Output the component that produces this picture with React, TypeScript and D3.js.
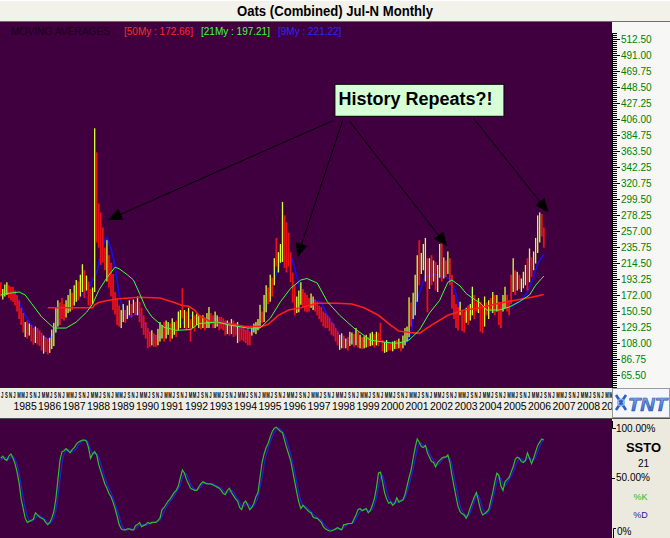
import React from "react";
import * as d3 from "d3";

// ---------------- DATA ----------------
const firstYear = 1984;
const firstMonth = 7; // Jul 1984, monthly bars up to Sep 2006

const highs: number[] = [
  189, 180, 186, 189, 185, 183,
  183, 178, 172, 165, 155, 148, 136, 138, 134, 132, 128, 130,
  128, 125, 122, 118, 116, 114, 115, 126, 135, 155, 165, 162,
  168, 160, 165, 172, 180, 175, 185, 192, 190, 199, 213, 205,
  198, 190, 180, 182, 394, 362, 294, 282, 262, 235, 245, 225,
  215, 200, 176, 168, 158, 152, 160, 152, 158, 165, 160, 166,
  163, 170, 163, 155, 145, 136, 128, 123, 125, 121, 119, 127,
  136, 132, 136, 138, 136, 134, 141, 136, 138, 150, 152, 181,
  152, 150, 155, 140, 150, 145, 147, 145, 143, 145, 142, 148,
  156, 148, 145, 150, 145, 143, 143, 141, 138, 138, 136, 140,
  138, 135, 136, 132, 130, 128, 126, 128, 123, 128, 134, 136,
  140, 159, 150, 172, 185, 182, 199, 195, 221, 248, 229, 240,
  296, 278, 269, 255, 229, 202, 185, 170, 178, 189, 180, 175,
  172, 168, 174, 170, 166, 163, 158, 156, 150, 148, 145, 142,
  136, 134, 128, 124, 119, 121, 118, 114, 116, 123, 122, 120,
  128, 123, 119, 116, 117, 119, 116, 121, 123, 120, 123, 122,
  135, 112, 109, 112, 110, 108, 110, 111, 112, 114, 110, 118,
  128, 130, 169, 162, 175, 199, 225, 245, 228, 240, 248, 221,
  221, 225, 218, 216, 212, 240, 245, 222, 218, 230, 221, 199,
  172, 160, 156, 163, 152, 150, 155, 158, 160, 183, 172, 163,
  168, 163, 158, 170, 162, 165, 168, 176, 172, 172, 163, 160,
  172, 183, 172, 165, 199, 221, 205, 203, 199, 194, 203, 212,
  221, 234, 222, 230, 248, 278, 282, 280, 262,
];

const lows: number[] = [
  170, 166, 170, 172, 168, 165,
  163, 158, 150, 140, 132, 122, 116, 114, 118, 110, 106, 108,
  106, 104, 98, 94, 96, 93, 95, 100, 104, 122, 130, 132,
  140, 138, 142, 148, 150, 152, 158, 163, 165, 170, 176, 168,
  178, 158, 155, 160, 176, 242, 235, 212, 215, 205, 190, 182,
  170, 152, 146, 132, 130, 128, 136, 135, 140, 145, 142, 148,
  145, 145, 136, 128, 119, 114, 101, 103, 105, 103, 103, 105,
  110, 114, 110, 114, 119, 110, 114, 119, 116, 125, 128, 141,
  128, 125, 128, 110, 128, 123, 132, 128, 126, 128, 125, 128,
  128, 133, 128, 128, 130, 125, 127, 125, 118, 120, 118, 120,
  116, 118, 108, 110, 112, 110, 108, 105, 105, 118, 122, 120,
  125, 128, 135, 136, 149, 160, 163, 170, 185, 210, 202, 215,
  216, 208, 202, 210, 189, 162, 145, 148, 149, 159, 156, 150,
  149, 150, 155, 152, 150, 145, 140, 136, 130, 128, 128, 124,
  119, 117, 110, 105, 99, 101, 101, 101, 98, 104, 106, 103,
  105, 102, 101, 100, 101, 102, 103, 104, 105, 102, 105, 104,
  110, 97, 95, 96, 98, 98, 97, 100, 100, 101, 97, 101,
  105, 110, 116, 130, 140, 145, 163, 185, 200, 205, 190, 149,
  180, 185, 190, 178, 176, 195, 190, 194, 196, 200, 185, 154,
  140, 128, 125, 145, 124, 122, 135, 132, 138, 145, 140, 150,
  148, 123, 121, 130, 145, 140, 150, 148, 145, 150, 132, 128,
  150, 154, 150, 145, 160, 176, 172, 178, 180, 176, 181, 185,
  178, 189, 196, 205, 214, 228, 242, 250, 235,
];

// U = month closed up (yellow-green bar), D = month closed down (red bar)
const directions: string =
  "DUUUDD" +
  "DDDDDDUDUDDU" +
  "DDDUDDUUUUUD" +
  "DDUUUDUUDUUD" +
  "UDDUUDDDDDUD" +
  "DDDDDUUDUUDU" +
  "DUDDDDDDUDDU" +
  "UUDUUDUUDUUD" +
  "UDUDUDUUDUDU" +
  "UDDUUDDDDUDU" +
  "DDUDDDDDDUUU" +
  "UUDUUDUDUDUU" +
  "UDDDDDDUUUDD" +
  "DDUUDDDDDDDD" +
  "DDDDUUDUDUUD" +
  "UDUDUUDUUDUD" +
  "DDUUDDUUDUDU" +
  "UUUDUUUDUUUD" +
  "UDUDUUDUDUDD" +
  "DDDUDDUDUUDD" +
  "UDDUDUDUDUDD" +
  "UUDDDUDUDUUU" +
  "DUDUUUUDD";

// Moving averages: [month, value]
const ma50Points: [string, number][] = [
  ["1986-06", 155], ["1986-12", 155], ["1987-09", 155], ["1988-04", 155],
  ["1988-05", 159], ["1988-07", 162], ["1988-12", 165], ["1989-05", 167],
  ["1990-03", 169], ["1991-01", 168], ["1991-08", 162], ["1991-12", 158],
  ["1992-03", 157], ["1992-06", 152], ["1992-08", 145], ["1993-02", 136],
  ["1993-10", 134], ["1994-07", 130], ["1995-03", 130], ["1995-06", 133],
  ["1995-11", 145], ["1996-04", 152], ["1996-10", 155], ["1997-06", 161],
  ["1998-04", 161], ["1998-11", 160], ["1999-05", 155], ["1999-12", 145],
  ["2000-06", 132], ["2000-10", 124], ["2001-03", 122], ["2001-08", 121],
  ["2002-02", 132], ["2002-10", 145], ["2003-06", 152], ["2004-02", 155],
  ["2004-11", 161], ["2005-07", 165], ["2006-03", 169], ["2006-09", 172.66],
];

const ma21Points: [string, number][] = [
  ["1984-07", 172], ["1984-10", 174], ["1985-04", 176], ["1985-07", 172],
  ["1985-10", 161], ["1986-03", 143], ["1986-09", 128], ["1987-03", 128],
  ["1987-08", 136], ["1988-01", 149], ["1988-04", 160], ["1988-07", 178],
  ["1988-11", 195], ["1989-03", 209], ["1989-05", 207], ["1989-09", 199],
  ["1989-12", 192], ["1990-03", 174], ["1990-06", 155], ["1990-09", 143],
  ["1991-03", 129], ["1991-09", 125], ["1992-04", 126], ["1992-08", 134],
  ["1993-05", 136], ["1993-11", 132], ["1994-08", 128], ["1995-02", 128],
  ["1995-07", 141], ["1995-12", 163], ["1996-05", 181], ["1996-10", 192],
  ["1997-01", 194], ["1997-06", 188], ["1997-11", 163], ["1998-05", 145],
  ["1998-12", 128], ["1999-06", 116], ["1999-08", 112], ["2000-01", 110],
  ["2000-07", 108], ["2000-10", 108], ["2001-03", 112], ["2001-08", 125],
  ["2002-01", 148], ["2002-06", 165], ["2002-10", 189], ["2002-12", 192],
  ["2003-04", 184], ["2003-07", 174], ["2003-10", 168], ["2004-02", 161],
  ["2004-05", 152], ["2004-11", 152], ["2005-04", 156], ["2005-09", 163],
  ["2006-02", 172], ["2006-05", 185], ["2006-09", 197.21],
];

const ma9Points: [string, number][] = [
  ["1985-01", 177], ["1985-04", 163], ["1985-07", 145], ["1985-10", 132],
  ["1986-03", 119], ["1986-06", 112], ["1986-10", 123], ["1987-01", 150],
  ["1987-06", 159], ["1987-11", 172], ["1988-02", 181], ["1988-06", 202],
  ["1988-09", 238], ["1988-11", 249], ["1989-01", 234], ["1989-03", 212],
  ["1989-05", 172], ["1989-08", 145], ["1989-10", 143], ["1990-03", 148],
  ["1990-06", 132], ["1990-09", 114], ["1991-01", 116], ["1991-06", 123],
  ["1991-11", 132], ["1992-04", 145], ["1992-08", 140], ["1993-03", 141],
  ["1993-11", 134], ["1994-08", 123], ["1994-12", 127], ["1995-04", 145],
  ["1995-07", 176], ["1995-11", 208], ["1996-01", 221], ["1996-05", 225],
  ["1996-07", 208], ["1996-10", 176], ["1997-01", 163], ["1997-04", 165],
  ["1997-08", 163], ["1997-11", 145], ["1998-02", 132], ["1998-05", 119],
  ["1998-09", 110], ["1999-02", 110], ["1999-06", 112], ["2000-01", 110],
  ["2000-09", 105], ["2001-02", 110], ["2001-04", 122], ["2001-06", 156],
  ["2001-09", 183], ["2001-11", 197], ["2002-03", 199], ["2002-08", 197],
  ["2002-11", 194], ["2003-02", 174], ["2003-04", 152], ["2003-08", 145],
  ["2003-11", 154], ["2004-02", 148], ["2004-07", 148], ["2004-11", 152],
  ["2005-05", 156], ["2005-09", 163], ["2006-01", 176], ["2006-04", 196],
  ["2006-06", 214], ["2006-09", 226],
];

// Slow stochastic (21), monthly, aligned with the bars
const stochK: number[] = [
  68, 70, 67, 66, 70, 72,
  68, 63, 55, 45, 30, 21, 12, 8, 9, 10, 11, 17,
  15, 13, 12, 11, 8, 6, 8, 12, 18, 30, 48, 66,
  74, 75, 77, 75, 73, 76, 78, 81, 83, 84, 85, 85,
  84, 78, 68, 72, 74, 71, 62, 56, 50, 44, 40, 35,
  32, 27, 21, 14, 6, 2, 1, 1, 2, 2, 1, 1,
  5, 6, 8, 4, 5, 6, 8, 7, 8, 8, 8, 10,
  12, 20, 22, 25, 28, 30, 33, 36, 38, 42, 50, 57,
  54, 48, 44, 40, 39, 38, 38, 41, 44, 46, 45, 44,
  44, 44, 43, 42, 41, 40, 38, 35, 34, 38, 40, 36,
  33, 30, 28, 22, 20, 26, 28, 24, 20, 22, 26, 32,
  36, 50, 64, 72, 78, 82, 88, 93, 96, 97, 95, 93,
  92, 85, 78, 72, 66, 56, 46, 36, 27, 21, 24, 22,
  20, 18, 17, 13, 12, 12, 10, 8, 4, 2, 1, 0,
  0, 1, 2, 3, 2, 1, 6, 6, 7, 7, 7, 11,
  15, 20, 21, 19, 20, 21, 17, 19, 24, 30, 40, 54,
  55, 46, 36, 30, 26, 27, 24, 26, 31, 27, 28, 29,
  34, 42, 50, 57, 68, 78, 86, 83, 79, 78, 80, 73,
  69, 65, 64, 60, 64, 66, 68, 69, 69, 71, 64, 52,
  42, 32, 23, 18, 16, 15, 12, 16, 22, 27, 32, 36,
  28, 20, 15, 16, 18, 20, 28, 36, 46, 54, 52, 42,
  38, 46, 48, 50, 55, 60, 67, 69, 68, 65, 64, 66,
  73, 68, 63, 68, 74, 80, 83, 86, 85,
];

const stochD: number[] = [
  66, 68, 69, 67, 67, 69,
  70, 67, 62, 54, 43, 32, 21, 14, 10, 9, 10, 12,
  14, 15, 13, 12, 10, 8, 7, 9, 12, 19, 32, 48,
  63, 72, 75, 76, 75, 74, 75, 77, 80, 82, 84, 85,
  85, 82, 76, 72, 72, 72, 69, 63, 56, 50, 45, 40,
  36, 31, 26, 20, 14, 7, 3, 1, 1, 2, 2, 1,
  2, 4, 6, 6, 6, 5, 6, 7, 7, 8, 8, 9,
  10, 14, 18, 22, 25, 28, 30, 33, 36, 39, 43, 50,
  54, 53, 49, 44, 41, 39, 38, 39, 41, 44, 45, 45,
  44, 44, 44, 43, 42, 41, 40, 38, 36, 36, 37, 38,
  36, 33, 30, 27, 23, 23, 25, 26, 24, 22, 23, 27,
  31, 41, 50, 62, 71, 77, 83, 88, 92, 95, 96, 95,
  93, 90, 85, 78, 72, 64, 55, 45, 36, 28, 24, 23,
  22, 20, 18, 16, 14, 12, 11, 10, 7, 5, 3, 1,
  1, 1, 1, 2, 2, 2, 3, 5, 6, 7, 7, 8,
  11, 15, 18, 20, 20, 20, 19, 19, 20, 24, 31, 41,
  50, 52, 46, 38, 31, 28, 26, 26, 27, 28, 29, 29,
  31, 36, 43, 50, 58, 67, 77, 82, 82, 80, 79, 77,
  73, 69, 66, 63, 62, 63, 66, 68, 69, 70, 68, 62,
  52, 42, 32, 24, 19, 16, 14, 14, 17, 22, 28, 33,
  33, 28, 21, 17, 16, 18, 22, 29, 37, 46, 51, 49,
  44, 42, 45, 48, 51, 55, 60, 65, 68, 67, 66, 65,
  68, 69, 67, 66, 69, 74, 79, 83, 85,
];

const priceTicks: number[] = [
  512.5, 491, 469.75, 448.5, 427.25, 406, 384.75, 363.5, 342.25, 320.75, 299.5,
  278.25, 257, 235.75, 214.5, 193.25, 172, 150.5, 129.25, 108, 86.75, 65.5,
];

const yearLabels: string[] = [
  "1985", "1986", "1987", "1988", "1989", "1990", "1991", "1992", "1993",
  "1994", "1995", "1996", "1997", "1998", "1999", "2000", "2001", "2002",
  "2003", "2004", "2005", "2006", "2007", "2008", "2009",
];
const monthLetters: string[] = ["J", "M", "M", "J", "S", "N"];
const monthLetterMonths: number[] = [1, 3, 5, 7, 9, 11];

const legendItems: { label: string; color: string }[] = [
  { label: "[50My : 172.66]", color: "#ff2a2a" },
  { label: "[21My : 197.21]", color: "#3cff3c" },
  { label: "[9My : 221.22]", color: "#2828ff" },
];

// Annotation (in data units: decimal year, price)
const calloutText = "History Repeats?!";
const calloutBox = { t0: 1998.14, t1: 2005.04, vTop: 452.6, vBottom: 410 };
const arrowList: { from: [number, number]; to: [number, number] }[] = [
  { from: [1998.05, 404], to: [1988.88, 272] },
  { from: [1998.45, 404], to: [1996.6, 222] },
  { from: [1998.72, 404], to: [2002.72, 237] },
  { from: [2003.8, 407], to: [2006.86, 282] },
];

// ---------------- HELPERS ----------------
const FONT = "'Liberation Sans', Arial, Helvetica, sans-serif";
const monthTime = (i: number) => {
  const m = firstMonth - 1 + i;
  return firstYear + Math.floor(m / 12) + (m % 12) / 12;
};
const parseMonth = (s: string) => {
  const [y, m] = s.split("-").map(Number);
  return y + (m - 1) / 12;
};

// layout
const PLOT_R = 612;
const MAIN_TOP = 22;
const MAIN_BOT = 388;
const LOW_TOP = 419;
const LOW_BOT = 538;
const PURPLE = "#400040";
const BEIGE = "#ecead f".split(" ").join("");

export default function App() {
  const x = d3.scaleLinear().domain([1984.47, 2009.45]).range([0, PLOT_R]);
  const y = d3.scaleLinear().domain([65.5, 512.5]).range([375, 39.3]);
  const ys = d3.scaleLinear().domain([0, 100]).range([531, 424]);

  const maLine = d3
    .line<[string, number]>()
    .x((d) => x(parseMonth(d[0])))
    .y((d) => y(d[1]));
  const stLine = d3
    .line<number>()
    .x((_, i) => x(monthTime(i)))
    .y((d) => ys(d));

  const ax0 = x(calloutBox.t0);
  const ax1 = x(calloutBox.t1);
  const ay0 = y(calloutBox.vTop);
  const ay1 = y(calloutBox.vBottom);

  const minorTicks: number[] = d3.range(33, MAIN_BOT, 2);

  const arrowShapes = arrowList.map((a) => {
    const x1 = x(a.from[0]);
    const y1 = y(a.from[1]);
    const x2 = x(a.to[0]);
    const y2 = y(a.to[1]);
    const ang = Math.atan2(y2 - y1, x2 - x1);
    const len = 14;
    const half = 6;
    const bx = x2 - len * Math.cos(ang);
    const by = y2 - len * Math.sin(ang);
    const px = -Math.sin(ang) * half;
    const py = Math.cos(ang) * half;
    return {
      line: { x1, y1, x2: bx, y2: by },
      head: `${x2},${y2} ${bx + px},${by + py} ${bx - px},${by - py}`,
    };
  });

  // month letters: each squeezed horizontally into its two-month slot
  const lettersEls: any[] = [];
  for (let yr = 1984; yr <= 2009; yr++) {
    monthLetterMonths.forEach((m, k) => {
      const px = x(yr + (m - 1) / 12);
      if (px < -1 || px > PLOT_R) return;
      lettersEls.push(
        <text
          key={`ml-${yr}-${m}`}
          transform={`translate(${px + 0.2},397.5) scale(0.47,1)`}
          fontSize={9}
          fontWeight="bold"
          fontFamily={FONT}
          fill="#000"
        >
          {monthLetters[k]}
        </text>
      );
    });
  }

  return (
    <svg
      width={670}
      height={538}
      style={{ position: "absolute", left: 0, top: 0, display: "block" }}
      xmlns="http://www.w3.org/2000/svg"
    >
      <defs>
        <clipPath id="mainClip">
          <rect x={0} y={MAIN_TOP} width={PLOT_R} height={MAIN_BOT - MAIN_TOP} />
        </clipPath>
        <clipPath id="lowClip">
          <rect x={0} y={LOW_TOP} width={PLOT_R} height={LOW_BOT - LOW_TOP} />
        </clipPath>
        <linearGradient id="tntGrad" x1="0" y1="0" x2="0" y2="1">
          <stop offset="0" stopColor="#8fb4ee" />
          <stop offset="1" stopColor="#2a5fc8" />
        </linearGradient>
      </defs>

      {/* backgrounds */}
      <rect x={0} y={0} width={670} height={538} fill={BEIGE} />
      <rect x={0} y={0} width={670} height={21} fill="#f2f1ea" />
      <line x1={0} x2={670} y1={0.5} y2={0.5} stroke="#ffffff" />
      <line x1={0} x2={670} y1={21.5} y2={21.5} stroke="#6e6e6e" />
      <rect x={0} y={MAIN_TOP} width={PLOT_R} height={MAIN_BOT - MAIN_TOP} fill={PURPLE} />
      <rect x={PLOT_R} y={MAIN_TOP} width={670 - PLOT_R} height={MAIN_BOT - MAIN_TOP} fill="#f7f7f5" />
      <rect x={0} y={MAIN_BOT} width={670} height={LOW_TOP - MAIN_BOT} fill="#eeede6" />
      <line x1={0} x2={670} y1={418.5} y2={418.5} stroke="#505050" />
      <rect x={0} y={LOW_TOP} width={PLOT_R} height={LOW_BOT - LOW_TOP} fill={PURPLE} />
      <rect x={PLOT_R} y={LOW_TOP} width={670 - PLOT_R} height={LOW_BOT - LOW_TOP} fill={BEIGE} />

      {/* title */}
      <text
        x={335}
        y={16}
        textAnchor="middle"
        fontFamily={FONT}
        fontWeight="bold"
        fontSize={14}
        textLength={196}
        lengthAdjust="spacingAndGlyphs"
        fill="#000"
      >
        Oats (Combined) Jul-N Monthly
      </text>

      {/* legend */}
      <text x={11} y={35} fontFamily={FONT} fontSize={10} fill="#1a001a" textLength={99} lengthAdjust="spacingAndGlyphs">
        MOVING AVERAGES
      </text>
      {legendItems.map((it, i) => (
        <text key={it.label} x={[124, 201, 278][i]} y={35} fontFamily={FONT} fontSize={10} fill={it.color}>
          {it.label}
        </text>
      ))}

      {/* main plot content */}
      <g clipPath="url(#mainClip)">
        <path d={maLine(ma9Points) || ""} fill="none" stroke="#1010f0" strokeWidth={1.6} />
        {highs.map((h, i) => {
          const up = directions[i] === "U";
          const px = x(monthTime(i));
          const w = up ? 1.3 : 1.8;
          return (
            <rect
              key={`b${i}`}
              x={px - w / 2}
              y={y(h)}
              width={w}
              height={Math.max(1, y(lows[i]) - y(h))}
              fill={up ? "#d4ff3c" : "#ea1018"}
            />
          );
        })}
        <path d={maLine(ma50Points) || ""} fill="none" stroke="#ff1e1e" strokeWidth={1.6} />
        <path d={maLine(ma21Points) || ""} fill="none" stroke="#40ff40" strokeWidth={1} />

        {arrowShapes.map((a, i) => (
          <g key={`ar${i}`}>
            <line {...a.line} stroke="#000" strokeWidth={1} />
            <polygon points={a.head} fill="#000" />
          </g>
        ))}
        <rect x={ax0} y={ay0} width={ax1 - ax0} height={ay1 - ay0} fill="#d6ffd6" stroke="#000" strokeWidth={1} />
        <text x={ax0 + 3.5} y={ay0 + 20.5} fontFamily={FONT} fontWeight="bold" fontSize={18} fill="#000">
          {calloutText}
        </text>
      </g>

      {/* right price axis */}
      <line x1={PLOT_R + 0.5} x2={PLOT_R + 0.5} y1={33} y2={MAIN_BOT} stroke="#000" />
      {minorTicks.map((t) => (
        <line key={`mt${t}`} x1={PLOT_R} x2={PLOT_R + 5} y1={t + 0.5} y2={t + 0.5} stroke="#000" />
      ))}
      {priceTicks.map((v) => (
        <g key={`pt${v}`}>
          <line x1={PLOT_R} x2={PLOT_R + 8} y1={Math.round(y(v)) + 0.5} y2={Math.round(y(v)) + 0.5} stroke="#000" />
          <text x={PLOT_R + 9} y={y(v) + 3.5} fontFamily={FONT} fontSize={10} fill="#008000">
            {v.toFixed(2)}
          </text>
        </g>
      ))}

      {/* bottom time axis: month letters + years */}
      {lettersEls}
      {yearLabels.map((yl) => (
        <text
          key={yl}
          x={x(+yl) + 0.5}
          y={410}
          fontFamily={FONT}
          fontSize={10.5}
          fill="#000"
          textLength={23.2}
          lengthAdjust="spacingAndGlyphs"
        >
          {yl}
        </text>
      ))}

      {/* TNT logo */}
      <rect x={612.5} y={388.5} width={57} height={29} fill="#f4f6fb" stroke="#9a9a9a" />
      <path d="M616,395 L626,410 M626,395 L616,410" stroke="#2a5fc8" strokeWidth={2.6} />
      <circle cx={621} cy={402.5} r={3.2} fill="none" stroke="#7fa6e6" strokeWidth={1.4} />
      <text
        x={628}
        y={411}
        fontFamily={FONT}
        fontWeight="bold"
        fontStyle="italic"
        fontSize={19}
        fill="url(#tntGrad)"
        stroke="#1f4fae"
        strokeWidth={0.6}
        textLength={39}
        lengthAdjust="spacingAndGlyphs"
      >
        TNT
      </text>

      {/* lower panel: SSTO */}
      <g clipPath="url(#lowClip)">
        <path d={stLine(stochD) || ""} fill="none" stroke="#2020d8" strokeWidth={1.2} />
        <path d={stLine(stochK) || ""} fill="none" stroke="#2fbf2f" strokeWidth={1.2} />
      </g>

      {/* lower right labels */}
      <path d={`M${PLOT_R + 0.5},421 V${ys(100) + 4.5} H${PLOT_R + 4}`} fill="none" stroke="#000" />
      <text x={PLOT_R + 4} y={ys(100) + 7.5} fontFamily={FONT} fontSize={10} fill="#000">
        100.00%
      </text>
      <text x={643.5} y={452} textAnchor="middle" fontFamily={FONT} fontWeight="bold" fontSize={13} fill="#000">
        SSTO
      </text>
      <text x={643.5} y={467} textAnchor="middle" fontFamily={FONT} fontSize={10} fill="#000">
        21
      </text>
      <line x1={PLOT_R - 1} x2={PLOT_R + 3} y1={Math.round(ys(50)) + 0.5} y2={Math.round(ys(50)) + 0.5} stroke="#000" />
      <text x={PLOT_R + 4} y={ys(50) + 3.5} fontFamily={FONT} fontSize={10} fill="#000">
        50.00%
      </text>
      <text x={640.5} y={499.5} textAnchor="middle" fontFamily={FONT} fontSize={9} fill="#22b822">
        %K
      </text>
      <text x={640.5} y={517.5} textAnchor="middle" fontFamily={FONT} fontSize={9} fill="#1c1c98">
        %D
      </text>
      <path d={`M${PLOT_R + 4},${ys(0) - 2.5} H${PLOT_R + 1.5} V${LOW_BOT}`} fill="none" stroke="#000" />
      <text x={PLOT_R + 5} y={ys(0) + 3.5} fontFamily={FONT} fontSize={10} fill="#000">
        0%
      </text>
    </svg>
  );
}
